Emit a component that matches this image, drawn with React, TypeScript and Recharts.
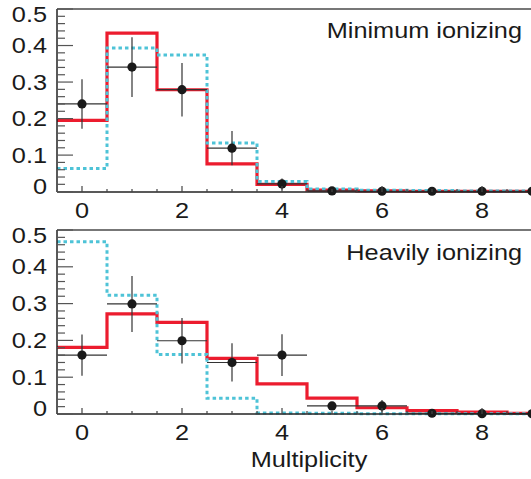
import React from "react";
import {
    ComposedChart, Line, Scatter, ErrorBar, XAxis, YAxis, ReferenceLine,
} from "recharts";

// bin centres (multiplicity)
const bins = [0, 1, 2, 3, 4, 5, 6, 7, 8, 9];

// Minimum ionizing panel
const minRed = [0.195, 0.434, 0.279, 0.076, 0.02, 0.004, 0.002, 0.001, 0.001, 0.001];
const minCyan = [0.063, 0.393, 0.374, 0.133, 0.028, 0.007, 0.004, 0.003, 0.002, 0.002];
const minData = [0.24, 0.341, 0.279, 0.119, 0.021, 0.002, 0.001, 0.001, 0.001, 0.001];
const minErr = [0.068, 0.082, 0.073, 0.047, 0.015, 0.003, 0.002, 0, 0, 0];

// Heavily ionizing panel
const heavyRed = [0.181, 0.272, 0.249, 0.151, 0.082, 0.043, 0.017, 0.009, 0.005, 0.002];
const heavyCyan = [0.468, 0.323, 0.162, 0.043, 0.003, 0.002, 0.001, 0.001, 0.001, 0.001];
const heavyData = [0.16, 0.299, 0.199, 0.14, 0.16, 0.022, 0.022, 0.002, 0.001, 0.001];
const heavyErr = [0.056, 0.076, 0.062, 0.052, 0.057, 0.01, 0.016, 0.002, 0.001, 0];

const yTicks = [0, 0.02, 0.04, 0.06, 0.08, 0.1, 0.12, 0.14, 0.16, 0.18, 0.2, 0.22, 0.24, 0.26, 0.28,
    0.3, 0.32, 0.34, 0.36, 0.38, 0.4, 0.42, 0.44, 0.46, 0.48, 0.5];
const xTicks = [0, 0.5, 1, 1.5, 2, 2.5, 3, 3.5, 4, 4.5, 5, 5.5, 6, 6.5, 7, 7.5, 8, 8.5, 9];
const xLabels = [0, 2, 4, 6, 8];

const FONT = "'Liberation Sans', Arial, Helvetica, sans-serif";
const STRETCH = 1.15;
const PLOT_LEFT = 57;
const RED = "#ec1c2e";
const CYAN = "#4ec3d7";

const toSteps = (vals: number[]) => {
    const pts = bins.map((b, i) => ({ x: b - 0.5, y: vals[i] }));
    pts.push({ x: bins[bins.length - 1] + 0.5, y: vals[vals.length - 1] });
    return pts;
};

const toPoints = (vals: number[], errs: number[]) =>
    bins.map((b, i) => ({ x: b, y: vals[i], ex: 0.5, ey: errs[i] }));

const isMajorY = (v: number) => Math.abs(v * 10 - Math.round(v * 10)) < 1e-6;

const YTick = (props: any) => {
    const { y, payload } = props;
    const v = payload.value;
    const major = isMajorY(v);
    let dy = 7.5;
    if (v === 0.5) dy = 13;
    if (v === 0) dy = 2;
    return (
        <g>
            <line x1={PLOT_LEFT} x2={PLOT_LEFT + (major ? 16 : 8)} y1={y} y2={y} stroke="#555" strokeWidth={1.2} />
            {major && (
                <text transform={`translate(47,${y + dy}) scale(${STRETCH},1)`} textAnchor="end"
                    fontFamily={FONT} fontSize={22} fill="#1a1a1a">
                    {v === 0 ? "0" : v.toFixed(1)}
                </text>
            )}
        </g>
    );
};

const makeXTick = (axisY: number) => (props: any) => {
    const { x, payload } = props;
    const v = payload.value;
    const major = xLabels.includes(v);
    return (
        <g>
            <line x1={x} x2={x} y1={axisY} y2={axisY - (major ? 6 : 3)} stroke="#444" strokeWidth={1.2} />
            {major && (
                <text transform={`translate(${x},${axisY + 26}) scale(${STRETCH},1)`} textAnchor="middle"
                    fontFamily={FONT} fontSize={22} fill="#1a1a1a">
                    {v}
                </text>
            )}
        </g>
    );
};

const Dot = (p: any) => <circle cx={p.cx} cy={p.cy} r={4.6} fill="#1a1a1a" />;

interface PanelProps {
    red: number[];
    cyan: number[];
    pts: number[];
    errs: number[];
    height: number;
    xAxisHeight: number;
    axisY: number;
}

function Panel({ red, cyan, pts, errs, height, xAxisHeight, axisY }: PanelProps) {
    return (
        <ComposedChart width={600} height={height} margin={{ top: 9, right: 43, bottom: 0, left: 0 }}>
            <XAxis type="number" dataKey="x" domain={[-0.5, 9.5]} ticks={xTicks} interval={0}
                height={xAxisHeight} tickLine={false} tick={makeXTick(axisY)}
                axisLine={{ stroke: "#222", strokeWidth: 1.5 }} />
            <YAxis type="number" dataKey="y" domain={[0, 0.5]} ticks={yTicks} interval={0}
                width={PLOT_LEFT} tickLine={false} tick={<YTick />}
                axisLine={{ stroke: "#222", strokeWidth: 1.5 }} />
            <ReferenceLine y={0.5} stroke="#777" strokeWidth={1.8} />
            <Line data={toSteps(red)} dataKey="y" type="stepAfter" stroke={RED} strokeWidth={3.2}
                dot={false} activeDot={false} isAnimationActive={false} />
            <Line data={toSteps(cyan)} dataKey="y" type="stepAfter" stroke={CYAN} strokeWidth={3}
                strokeDasharray="3.5 3" dot={false} activeDot={false} isAnimationActive={false} />
            <Scatter data={toPoints(pts, errs)} dataKey="y" shape={<Dot />} isAnimationActive={false}>
                <ErrorBar dataKey="ex" direction="x" width={0} stroke="#333" strokeWidth={1.2} />
                <ErrorBar dataKey="ey" direction="y" width={0} stroke="#333" strokeWidth={1.2} />
            </Scatter>
        </ComposedChart>
    );
}

const labelStyle = { fontFamily: FONT, fontSize: 22, fill: "#1a1a1a" };

export default function App() {
    return (
        <div style={{ position: "fixed", left: 0, top: 0, width: 531, height: 479, overflow: "hidden", background: "#fff" }}>
            <div style={{ position: "absolute", left: 0, top: 0 }}>
                <Panel red={minRed} cyan={minCyan} pts={minData} errs={minErr}
                    height={222} xAxisHeight={30} axisY={192} />
            </div>
            <div style={{ position: "absolute", left: 0, top: 221 }}>
                <Panel red={heavyRed} cyan={heavyCyan} pts={heavyData} errs={heavyErr}
                    height={257} xAxisHeight={64} axisY={193} />
            </div>
            <svg width={531} height={479} style={{ position: "absolute", left: 0, top: 0, pointerEvents: "none" }}>
                <text transform={`translate(522,38) scale(${STRETCH},1)`} textAnchor="end" {...labelStyle}>
                    Minimum ionizing
                </text>
                <text transform={`translate(522,260) scale(${STRETCH},1)`} textAnchor="end" {...labelStyle}>
                    Heavily ionizing
                </text>
                <text transform={`translate(309,467) scale(${STRETCH},1)`} textAnchor="middle" {...labelStyle}>
                    Multiplicity
                </text>
            </svg>
        </div>
    );
}
